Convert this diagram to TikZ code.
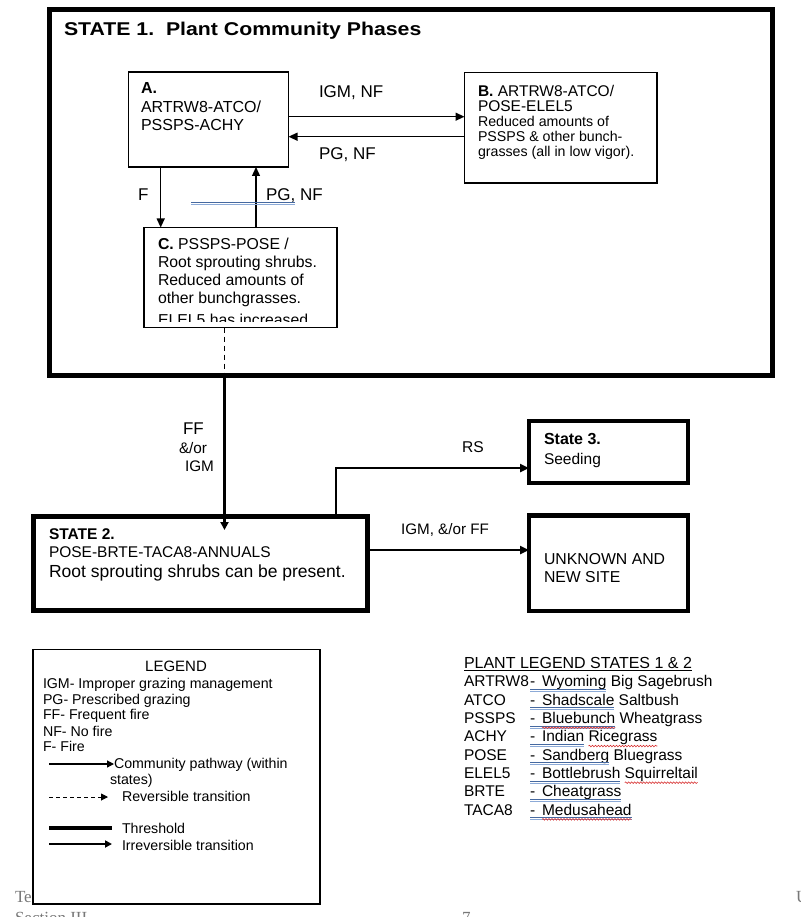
\documentclass[tikz,border=0pt]{standalone}
\usepackage{fontspec}
\setmainfont{Liberation Sans}
\newfontfamily\titlefont[FakeStretch=1.15]{Liberation Sans}
\newfontfamily\footfont{Liberation Serif}
\usetikzlibrary{arrows.meta,calc,decorations.pathmorphing}
\newcommand\fsz[1]{\fontsize{#1}{#1}\selectfont}
\definecolor{ulA}{RGB}{70,105,160}
\definecolor{ulB}{RGB}{140,170,215}
\definecolor{footgray}{RGB}{120,120,120}
\definecolor{wavyred}{RGB}{215,45,45}
\begin{document}
\begin{tikzpicture}[x=1pt,y=-1pt,
  box/.style={draw, line width=1.2pt, inner sep=0pt, outer sep=0pt, anchor=north west, fill=white},
  heavybox/.style={box, line width=5pt},
  midbox/.style={box, line width=4.2pt},
  txt/.style={anchor=base west, inner sep=0pt, outer sep=0pt},
  ctxt/.style={anchor=base, inner sep=0pt, outer sep=0pt},
  arr/.style={-{Triangle[length=9pt,width=8pt]}, line width=1.3pt},
  legarr/.style={-{Triangle[length=7pt,width=7pt]}, line width=1.2pt},
  midarr/.style={-{Triangle[length=9pt,width=8pt]}, line width=2.4pt},
  thickarr/.style={-{Triangle[length=8pt,width=8pt]}, line width=2.8pt},
  dashline/.style={dash pattern=on 5pt off 4pt, line width=1pt},
  blueA/.style={draw=ulA, line width=1pt},
  blueB/.style={draw=ulB, line width=1pt},
  wavy/.style={draw=wavyred, line width=0.6pt, decorate, decoration={snake, amplitude=0.8pt, segment length=3pt}},
]
\fill[white] (0,0) rectangle (800,917);
\useasboundingbox (0,0) rectangle (800,917);

% page footer remnants
\node[txt, text=footgray, font=\footfont\fsz{17}] (ft1) at (15,902.7) {Te};
\node[txt, text=footgray, font=\footfont\fsz{17}] (ft2) at (796,902.7) {U};
\node[txt, text=footgray, font=\footfont\fsz{17}] (ft3) at (15,923) {Section III};
\node[txt, text=footgray, font=\footfont\fsz{17}] (ft4) at (462,923) {7};

% ---------------- STATE 1 ----------------
\node[heavybox, fill=none, minimum width=722.5pt, minimum height=366pt] (S1) at (49.5,9.5) {};
\node[txt, font=\titlefont\bfseries\fsz{18.5}] (S1t) at (64,36) {STATE 1.\ \ Plant Community Phases};

\node[box, minimum width=160pt, minimum height=95pt] (A) at (128.5,72) {};
\node[txt, font=\fsz{16}] (At1) at (141,94) {\textbf{A.}};
\node[txt, font=\fsz{16}] (At2) at (141,112.7) {ARTRW8-ATCO/};
\node[txt, font=\fsz{16}] (At3) at (141,130.5) {PSSPS-ACHY};

\node[box, minimum width=192.5pt, minimum height=110.5pt] (B) at (464.5,72.5) {};
\node[txt, font=\fsz{15.5}] (Bt1) at (478,96.7) {\textbf{B.} ARTRW8-ATCO/};
\node[txt, font=\fsz{15.5}] (Bt2) at (478,111.7) {POSE-ELEL5};
\node[txt, font=\fsz{14.2}] (Bt3) at (478,126.7) {Reduced amounts of};
\node[txt, font=\fsz{14.2}] (Bt4) at (478,141.7) {PSSPS \& other bunch-};
\node[txt, font=\fsz{14.2}] (Bt5) at (478,156.7) {grasses (all in low vigor).};

\node[box, minimum width=193pt, minimum height=100pt] (C) at (144,227.5) {};
\begin{scope}
\clip (144,227.5) rectangle (337,321);
\node[txt, font=\fsz{15.8}] (Ct1) at (158,249) {\textbf{C.} PSSPS-POSE /};
\node[txt, font=\fsz{15.8}] (Ct2) at (158,267.3) {Root sprouting shrubs.};
\node[txt, font=\fsz{15.8}] (Ct3) at (158,285.7) {Reduced amounts of};
\node[txt, font=\fsz{15.8}] (Ct4) at (158,303.3) {other bunchgrasses.};
\node[txt, font=\fsz{15.8}] (Ct5) at (158,325.5) {ELEL5 has increased};
\end{scope}

% pathways within state 1
\coordinate (yab1) at (300,116.7);
\coordinate (yab2) at (300,136.7);
\draw[arr] (A.east |- yab1) -- (B.west |- yab1);
\draw[arr] (B.west |- yab2) -- (A.east |- yab2);
\node[txt, font=\fsz{17}] (l1) at (319,98) {IGM, NF};
\node[txt, font=\fsz{17}] (l2) at (319,160) {PG, NF};

\coordinate (fx) at (160.7,200);
\coordinate (px) at (256,200);
\draw[arr] (A.south -| fx) -- (C.north -| fx);
\draw[arr] (C.north -| px) -- (A.south -| px);
\node[txt, font=\fsz{17}] (l3) at (138,201) {F};
\node[txt, font=\fsz{17}] (l4) at (266,201) {PG, NF};
\draw[blueA] (191,202.3) -- (295,202.3);
\draw[blueB] (191,204.3) -- (295,204.3);

% ---------------- STATE 2, 3, unknown ----------------
\node[heavybox, minimum width=333.5pt, minimum height=94.5pt] (S2) at (33.5,516) {};
\node[txt, font=\fsz{15.5}] (S2t1) at (49,539) {\textbf{STATE 2.}};
\node[txt, font=\fsz{15.5}] (S2t2) at (49,557) {POSE-BRTE-TACA8-ANNUALS};
\node[txt, font=\fsz{17.5}] (S2t3) at (49,577) {Root sprouting shrubs can be present.};

\node[midbox, minimum width=159pt, minimum height=62pt] (S3) at (529,421) {};
\node[txt, font=\fsz{16}] (S3t1) at (544,444) {\textbf{State 3.}};
\node[txt, font=\fsz{15.5}] (S3t2) at (544,464) {Seeding};

\node[midbox, line width=4.5pt, minimum width=159pt, minimum height=95.5pt] (U) at (529,515.5) {};
\node[txt, font=\fsz{15.8}] (Ut1) at (544,564) {UNKNOWN AND};
\node[txt, font=\fsz{15.8}] (Ut2) at (544,582) {NEW SITE};

% transition state 1 -> state 2
\coordinate (tx) at (224.5,400);
\coordinate (s2tip) at (224.5,530);
\draw[dashline] (C.south -| tx) -- (S1.south -| tx);
\draw[thickarr] (S1.south -| tx) -- (s2tip);
\node[txt, font=\fsz{17}] (l5) at (183,434) {FF};
\node[txt, font=\fsz{15.3}] (l6) at (179,453) {\&/or};
\node[txt, font=\fsz{15.3}] (l7) at (185,471) {IGM};

% state 2 -> state 3
\coordinate (rsk) at (336,468);
\draw[midarr] (S2.north -| rsk) -- (rsk) -- (S3.west |- rsk);
\node[ctxt, font=\fsz{15.6}] (l8) at (473,452) {RS};

% state 2 -> unknown
\coordinate (ig) at (450,550);
\draw[midarr] (S2.east |- ig) -- (U.west |- ig);
\node[ctxt, font=\fsz{15.2}] (l9) at (445,534) {IGM, \&/or FF};

% ---------------- LEGEND ----------------
\node[box, minimum width=287pt, minimum height=254.5pt] (LG) at (33,649.5) {};
\node[ctxt, font=\fsz{15}] (lg0) at (176,671) {LEGEND};
\node[txt, font=\fsz{14.2}] (lg1) at (43,688) {IGM- Improper grazing management};
\node[txt, font=\fsz{14.2}] (lg2) at (43,704) {PG- Prescribed grazing};
\node[txt, font=\fsz{14.2}] (lg3) at (43,719.5) {FF- Frequent fire};
\node[txt, font=\fsz{14.2}] (lg4) at (43,736) {NF- No fire};
\node[txt, font=\fsz{14.2}] (lg5) at (43,751) {F- Fire};
\coordinate (la1) at (49,764);
\coordinate (lb1) at (114,764);
\draw[legarr] (la1) -- (lb1);
\node[txt, font=\fsz{14.2}] (lg6) at (114,768) {Community pathway (within};
\node[txt, font=\fsz{14.2}] (lg7) at (110,784) {states)};
\coordinate (la2) at (49,797);
\coordinate (lb2) at (108,797);
\draw[legarr, line width=1pt, dash pattern=on 4pt off 3pt] (la2) -- (lb2);
\node[txt, font=\fsz{14.2}] (lg8) at (122,801) {Reversible transition};
\coordinate (la3) at (49,828);
\coordinate (lb3) at (112,828);
\draw[line width=4pt] (la3) -- (lb3);
\node[txt, font=\fsz{14.2}] (lg9) at (122,833) {Threshold};
\coordinate (la4) at (49,844);
\coordinate (lb4) at (112,844);
\draw[legarr, line width=2.8pt] (la4) -- (lb4);
\node[txt, font=\fsz{14.2}] (lg10) at (122,850) {Irreversible transition};

% ---------------- PLANT LEGEND ----------------
\node[txt, font=\fsz{16}] (pt) at (464,668) {PLANT LEGEND STATES 1 \& 2};
\draw[line width=0.9pt] ($(pt.base west)+(0,2.3)$) -- ($(pt.base east)+(0,2.3)$);
\foreach \code/\wa/\wb/\ra/\rb [count=\i] in {ARTRW8/Wyoming/Big Sagebrush/0/0,
    ATCO/Shadscale/Saltbush/0/0, PSSPS/Bluebunch/Wheatgrass/1/0,
    ACHY/Indian/Ricegrass/0/1, POSE/Sandberg/Bluegrass/0/0,
    ELEL5/Bottlebrush/Squirreltail/0/1, BRTE/Cheatgrass//0/0,
    TACA8/Medusahead//1/0}{
  \pgfmathsetmacro\yy{668.4+18.33*\i}
  \node[txt, font=\fsz{15.5}] (pc\i) at (464,\yy) {\code};
  \node[txt, font=\fsz{15.5}] (pd\i) at (530,\yy) {-};
  \node[txt, font=\fsz{15.5}] (pw\i) at (542,\yy) {\wa};
  \node[txt, font=\fsz{15.5}] (pv\i) at ($(pw\i.base east)+(4.3,0)$) {\wb};
  \draw[blueA] ($(pd\i.base west)+(0,2.8)$) -- ($(pw\i.base east)+(0,2.8)$);
  \draw[blueB] ($(pd\i.base west)+(0,4.8)$) -- ($(pw\i.base east)+(0,4.8)$);
  \ifnum\ra=1 \draw[wavy] ($(pw\i.base west)+(0,4.3)$) -- ($(pw\i.base east)+(0,4.3)$);\fi
  \ifnum\rb=1 \draw[wavy] ($(pv\i.base west)+(0,4.3)$) -- ($(pv\i.base east)+(0,4.3)$);\fi
}
\end{tikzpicture}
\end{document}
